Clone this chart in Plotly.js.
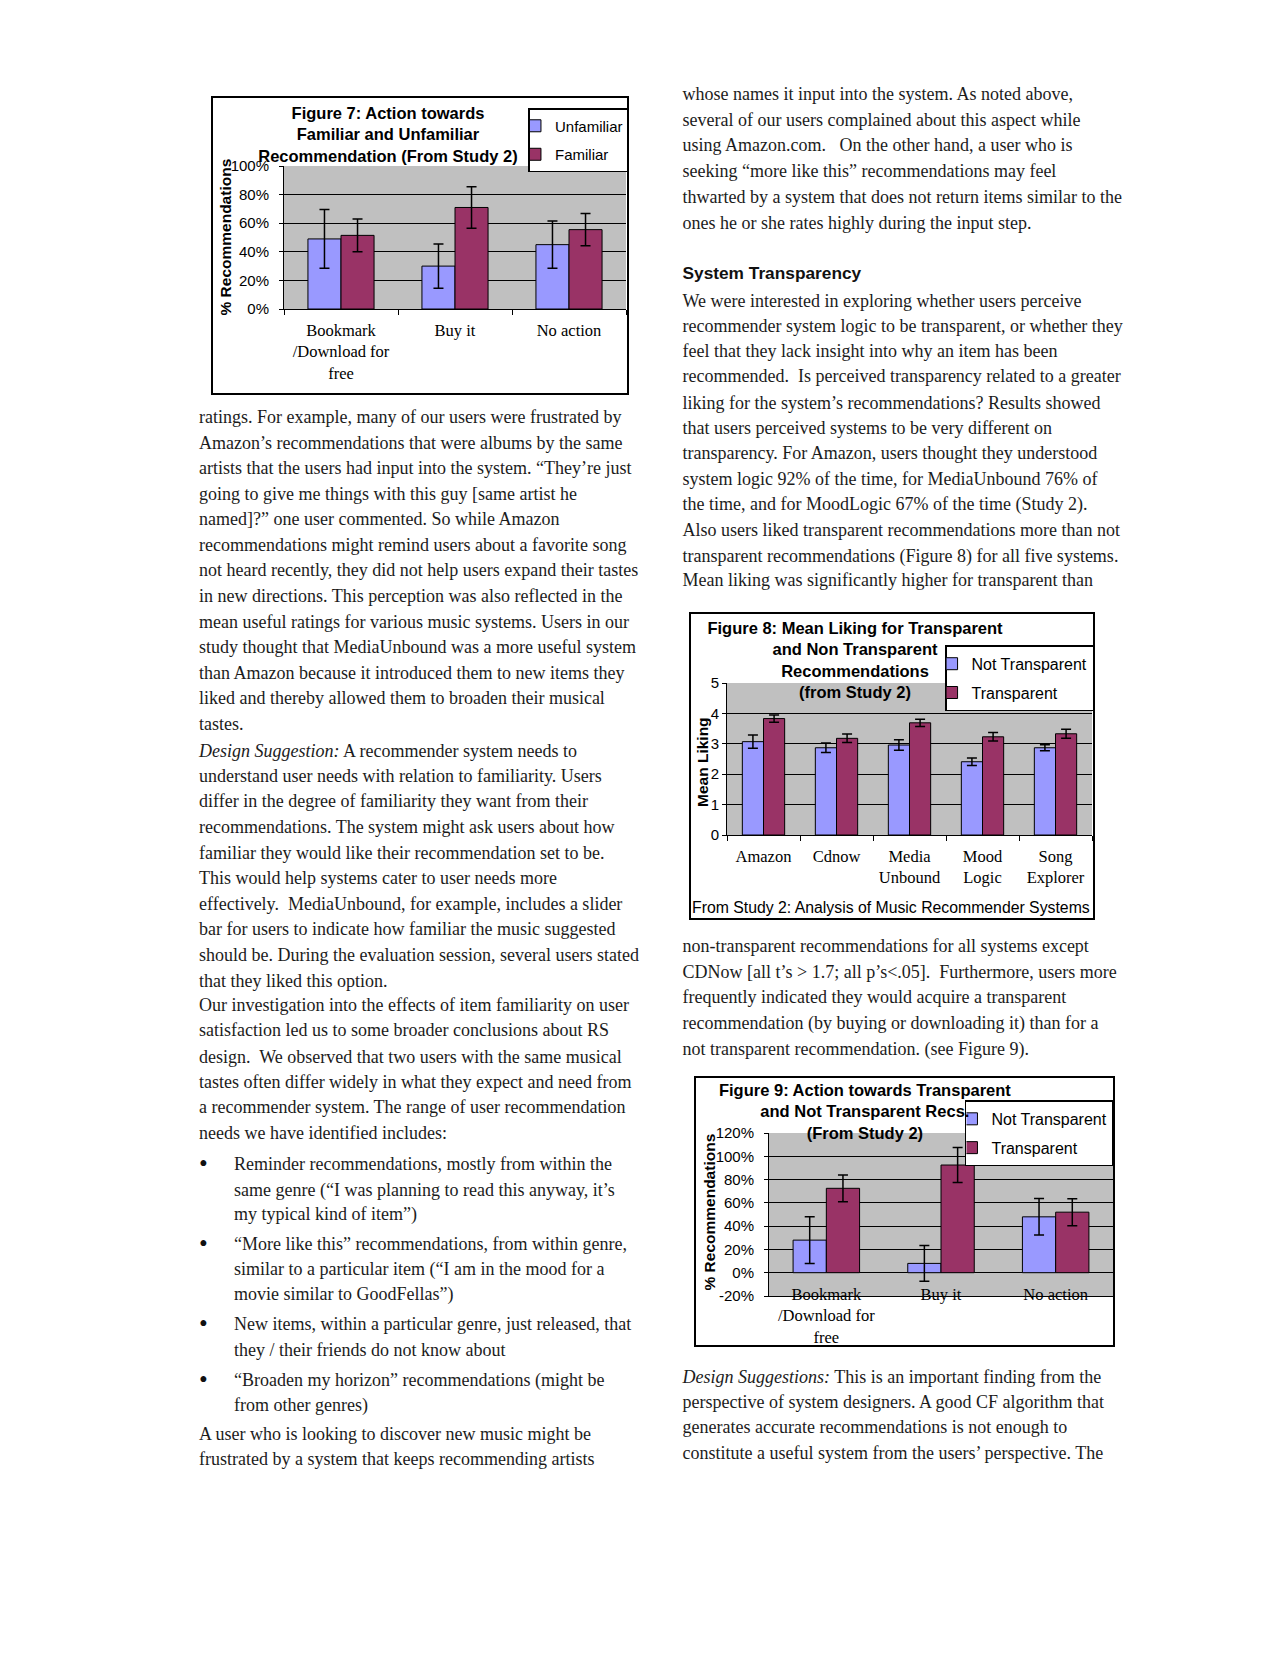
<!DOCTYPE html>
<html><head><meta charset="utf-8">
<script src="https://cdn.plot.ly/plotly-3.0.1.min.js"></script>
<style>
html,body{margin:0;padding:0;background:#fff;}
#page{position:relative;width:1280px;height:1656px;overflow:hidden;background:#fff;}
.ln{position:absolute;white-space:pre;font-family:"Liberation Serif","Times New Roman",serif;font-size:18px;line-height:20px;color:#1c1c1c;}
.bl{position:absolute;white-space:pre;font-family:"Liberation Serif","Times New Roman",serif;font-size:25px;line-height:20px;color:#111;}
.hd{position:absolute;white-space:pre;font-family:"Liberation Sans",Arial,sans-serif;font-weight:bold;font-size:17.3px;line-height:20px;color:#111;}
.box{position:absolute;border:2px solid #000;overflow:hidden;background:#fff;}
</style></head><body><div id="page">
<div class="box" style="left:211px;top:96px;width:414px;height:295px;"><div id="fig7"></div></div>
<div class="box" style="left:689px;top:612px;width:402px;height:304px;"><div id="fig8"></div></div>
<div class="box" style="left:694px;top:1076px;width:417px;height:267px;"><div id="fig9"></div></div>
</div>
<script>
// ---------- Figure 7 data ----------
const fig7Categories = ['Bookmark<br>/Download for<br>free', 'Buy it', 'No action'];
const fig7Unfamiliar = [49, 30, 45];
const fig7UnfamiliarErr = [20.5, 15.5, 16.5];
const fig7Familiar = [51.5, 71, 55.5];
const fig7FamiliarErr = [11.5, 14.5, 11.3];
const fig7YTicks = [0, 20, 40, 60, 80, 100];

// ---------- Figure 8 data ----------
const fig8Systems = ['Amazon', 'Cdnow', 'Media<br>Unbound', 'Mood<br>Logic', 'Song<br>Explorer'];
const fig8NotTransparent = [3.07, 2.87, 2.96, 2.41, 2.87];
const fig8NotTransparentErr = [0.22, 0.16, 0.17, 0.12, 0.10];
const fig8Transparent = [3.83, 3.18, 3.69, 3.23, 3.33];
const fig8TransparentErr = [0.12, 0.14, 0.12, 0.14, 0.15];
const fig8YTicks = [0, 1, 2, 3, 4, 5];

// ---------- Figure 9 data ----------
const fig9Actions = ['Bookmark<br>/Download for<br>free', 'Buy it', 'No action'];
const fig9NotTransparent = [28, 8, 48];
const fig9NotTransparentErr = [20, 15.4, 15.7];
const fig9Transparent = [72.5, 92.5, 52];
const fig9TransparentErr = [11.5, 15, 11.6];
const fig9YTicks = [-20, 0, 20, 40, 60, 80, 100, 120];

// ---------- Page text ----------
const leftLines = [
 'ratings. For example, many of our users were frustrated by',
 'Amazon\u2019s recommendations that were albums by the same',
 'artists that the users had input into the system. \u201cThey\u2019re just',
 'going to give me things with this guy [same artist he',
 'named]?\u201d one user commented. So while Amazon',
 'recommendations might remind users about a favorite song',
 'not heard recently, they did not help users expand their tastes',
 'in new directions. This perception was also reflected in the',
 'mean useful ratings for various music systems. Users in our',
 'study thought that MediaUnbound was a more useful system',
 'than Amazon because it introduced them to new items they',
 'liked and thereby allowed them to broaden their musical',
 'tastes.',
 '<i>Design Suggestion:</i> A recommender system needs to',
 'understand user needs with relation to familiarity. Users',
 'differ in the degree of familiarity they want from their',
 'recommendations. The system might ask users about how',
 'familiar they would like their recommendation set to be.',
 'This would help systems cater to user needs more',
 'effectively.  MediaUnbound, for example, includes a slider',
 'bar for users to indicate how familiar the music suggested',
 'should be. During the evaluation session, several users stated',
 'that they liked this option.',
 'Our investigation into the effects of item familiarity on user',
 'satisfaction led us to some broader conclusions about RS',
 'design.  We observed that two users with the same musical',
 'tastes often differ widely in what they expect and need from',
 'a recommender system. The range of user recommendation',
 'needs we have identified includes:',
 '\u2022Reminder recommendations, mostly from within the',
 'same genre (\u201cI was planning to read this anyway, it\u2019s',
 'my typical kind of item\u201d)',
 '\u2022\u201cMore like this\u201d recommendations, from within genre,',
 'similar to a particular item (\u201cI am in the mood for a',
 'movie similar to GoodFellas\u201d)',
 '\u2022New items, within a particular genre, just released, that',
 'they / their friends do not know about',
 '\u2022\u201cBroaden my horizon\u201d recommendations (might be',
 'from other genres)',
 'A user who is looking to discover new music might be',
 'frustrated by a system that keeps recommending artists'
];
const leftCenters = [418.7,444.7,470.3,495.7,521.3,547,572,598,623.7,648.7,674.7,699.7,725.5,752.5,
 777.5,802.5,829,854.8,880.2,905.8,930.8,956.5,982.5,1006.5,1032.2,1058.9,1084.2,1109.2,1134.9,
 1165.5,1191.5,1215.9,1245.9,1270.5,1295.9,1325.9,1351.5,1381.5,1407.2,1435.9,1460.9];
const leftIndent = [0,0,0,0,0,0,0,0,0,0,0,0,0,0,0,0,0,0,0,0,0,0,0,0,0,0,0,0,0,
 1,1,1,1,1,1,1,1,1,1,0,0];

const rightLines = [
 'whose names it input into the system. As noted above,',
 'several of our users complained about this aspect while',
 'using Amazon.com.   On the other hand, a user who is',
 'seeking \u201cmore like this\u201d recommendations may feel',
 'thwarted by a system that does not return items similar to the',
 'ones he or she rates highly during the input step.',
 '#System Transparency',
 'We were interested in exploring whether users perceive',
 'recommender system logic to be transparent, or whether they',
 'feel that they lack insight into why an item has been',
 'recommended.  Is perceived transparency related to a greater',
 'liking for the system\u2019s recommendations? Results showed',
 'that users perceived systems to be very different on',
 'transparency. For Amazon, users thought they understood',
 'system logic 92% of the time, for MediaUnbound 76% of',
 'the time, and for MoodLogic 67% of the time (Study 2).',
 'Also users liked transparent recommendations more than not',
 'transparent recommendations (Figure 8) for all five systems.',
 'Mean liking was significantly higher for transparent than',
 'non-transparent recommendations for all systems except',
 'CDNow [all t\u2019s > 1.7; all p\u2019s<.05].  Furthermore, users more',
 'frequently indicated they would acquire a transparent',
 'recommendation (by buying or downloading it) than for a',
 'not transparent recommendation. (see Figure 9).',
 '<i>Design Suggestions:</i> This is an important finding from the',
 'perspective of system designers. A good CF algorithm that',
 'generates accurate recommendations is not enough to',
 'constitute a useful system from the users\u2019 perspective. The'
];
const rightCenters = [95.5,121.5,147,172.5,198.5,224.5,272.7,302.5,328,352.5,378,404.5,429.5,454.5,480.5,505.5,531.5,558,582,
 947.5,974,999,1025,1050.5,1379,1404,1429,1455];

function esc(s){return s.replace(/&/g,'&amp;').replace(/</g,'&lt;').replace(/>/g,'&gt;').replace(/&lt;i&gt;/g,'<i>').replace(/&lt;\/i&gt;/g,'</i>');}
const page = document.getElementById('page');
function addLine(text, x, center, cls, off){
  const d = document.createElement('div');
  d.className = cls;
  d.style.left = x + 'px';
  d.style.top = (center - off) + 'px';
  d.innerHTML = esc(text);
  page.appendChild(d);
}
leftLines.forEach((t,i)=>{
  const c = leftCenters[i];
  if (t.startsWith('\u2022')) {
    addLine('\u2022', 199, c, 'bl', 11.5);
    addLine(t.slice(1), 234, c, 'ln', 12);
  } else {
    addLine(t, leftIndent[i] ? 234 : 199, c, 'ln', 12);
  }
});
rightLines.forEach((t,i)=>{
  const c = rightCenters[i];
  if (t.startsWith('#')) addLine(t.slice(1), 682.5, c, 'hd', 9.8);
  else addLine(t, 682.5, c, 'ln', 12);
});

// ---------- Charts ----------
const BLUE = '#9999FF', PLUM = '#993366', GRAY = '#C0C0C0';
const SANS = '"Liberation Sans", Arial, sans-serif';
const SERIF = '"Liberation Serif", "Times New Roman", serif';

function barTrace(name, x, y, err, color, group){
  return {type:'bar', name:name, x:x, y:y, legendgroup:group,
    marker:{color:color, line:{color:'#000', width:1}},
    error_y:{type:'data', array:err, visible:true, color:'#000', thickness:1.5, width:5},
    hoverinfo:'skip'};
}

function chartLayout(o){
  return {
    width:o.W, height:o.H, paper_bgcolor:'#fff', plot_bgcolor:GRAY,
    margin:{l:o.l, r:o.r, t:o.t, b:o.b, pad:0, autoexpand:false},
    barmode:'group', bargap:0.42, bargroupgap:0,
    showlegend:true,
    font:{family:SANS, color:'#000'},
    title:{text:o.title, xref:'container', yref:'container', x:o.tx, y:o.ty,
      xanchor:'center', yanchor:'top', pad:{t:0,b:0,l:0,r:0},
      font:{family:SANS, size:16.5, weight:700, color:'#000'}},
    legend:{xref:'container', yref:'container', x:o.lx, y:o.ly, xanchor:'left', yanchor:'top',
      bgcolor:'#fff', bordercolor:'#000', borderwidth:1.5, indentation:-15,
      tracegroupgap:o.lgap, traceorder:'grouped',
      font:{family:SANS, size:o.lfs, color:'#000'}},
    xaxis:{type:'category', showline:true, linecolor:'#000', linewidth:1,
      ticks:o.xticks, tickson:'boundaries', ticklen:5, tickcolor:'#000', tickangle:0,
      ticklabelstandoff:o.xstand,
      tickfont:{family:SERIF, size:16.5, color:'#000'}, showgrid:false, fixedrange:true},
    yaxis:{range:o.yr, tickvals:o.yticks, ticktext:o.yticks.map(v => v + o.suffix),
      showline:true, linecolor:'#000', linewidth:1, ticks:'outside', ticklen:4, tickcolor:'#000',
      ticklabelstandoff:o.ystand,
      tickfont:{family:SANS, size:15, color:'#000'}, showgrid:true, gridcolor:'#000', gridwidth:1,
      zeroline:o.zero, zerolinecolor:'#000', zerolinewidth:1, fixedrange:true},
    annotations:[{text:o.ytitle, xref:'paper', yref:'paper', x:0, y:0.5, xanchor:'center', yanchor:'middle',
      xshift:o.ytx, yshift:o.yty, textangle:-90, showarrow:false,
      font:{family:SANS, size:15.5, weight:700, color:'#000'}}].concat(o.extraAnn || [])
  };
}

const cfg = {displayModeBar:false, staticPlot:true};

// Figure 7
Plotly.newPlot('fig7', [
  barTrace('Unfamiliar', fig7Categories, fig7Unfamiliar, fig7UnfamiliarErr, BLUE, 'a'),
  barTrace('Familiar', fig7Categories, fig7Familiar, fig7FamiliarErr, PLUM, 'b')
], chartLayout({W:414, H:295, l:71, r:1, t:68, b:84,
  title:'Figure 7: Action towards<br>Familiar and Unfamiliar<br>Recommendation (From Study 2)',
  tx:0.4227, ty:0.929, lx:0.762, ly:0.966, lfs:15, lgap:6,
  xticks:'outside', xstand:6, yr:[0,100], yticks:fig7YTicks, suffix:'%', ystand:7, zero:false,
  ytitle:'% Recommendations', ytx:-59, yty:0}), cfg);

// Figure 8
Plotly.newPlot('fig8', [
  barTrace('Not Transparent', fig8Systems, fig8NotTransparent, fig8NotTransparentErr, BLUE, 'a'),
  barTrace('Transparent', fig8Systems, fig8Transparent, fig8TransparentErr, PLUM, 'b')
], chartLayout({W:402, H:304, l:36, r:1, t:69, b:83,
  title:'Figure 8: Mean Liking for Transparent<br>and Non Transparent<br>Recommendations<br>(from Study 2)',
  tx:0.408, ty:0.935, lx:0.632, ly:0.897, lfs:16, lgap:5,
  xticks:'outside', xstand:6, yr:[0,5], yticks:fig8YTicks, suffix:'', ystand:0, zero:false,
  ytitle:'Mean Liking', ytx:-25, yty:-3,
  extraAnn:[{text:'From Study 2: Analysis of Music Recommender Systems', xref:'paper', yref:'paper',
    x:0.45, y:-0.48, xanchor:'center', yanchor:'middle', showarrow:false,
    font:{family:SANS, size:15.8, color:'#000'}}]}), cfg);

// Figure 9
const fig9Layout = chartLayout({W:417, H:267, l:73, r:0, t:55, b:49,
  title:'Figure 9: Action towards Transparent<br>and Not Transparent Recs.<br>(From Study 2)',
  tx:0.405, ty:0.933, lx:0.645, ly:0.916, lfs:16, lgap:5,
  xticks:'', xstand:-17, yr:[fig9YTicks[0], fig9YTicks[fig9YTicks.length-1]], yticks:fig9YTicks, suffix:'%', ystand:7, zero:true,
  ytitle:'% Recommendations', ytx:-60, yty:2});
const y9 = fig9Layout.yaxis.range;
fig9Layout.xaxis2 = {overlaying:'x', anchor:'free', position:(0 - y9[0])/(y9[1]-y9[0]),
  range:[-0.5, fig9Actions.length - 0.5], tickvals:fig9Actions.slice(1).map((c,i)=>i+0.5),
  ticks:'outside', ticklen:5, tickcolor:'#000', showticklabels:false, showgrid:false, zeroline:false, showline:false, fixedrange:true};
Plotly.newPlot('fig9', [
  barTrace('Not Transparent', fig9Actions, fig9NotTransparent, fig9NotTransparentErr, BLUE, 'a'),
  barTrace('Transparent', fig9Actions, fig9Transparent, fig9TransparentErr, PLUM, 'b')
], fig9Layout, cfg);
</script>
</body></html>
